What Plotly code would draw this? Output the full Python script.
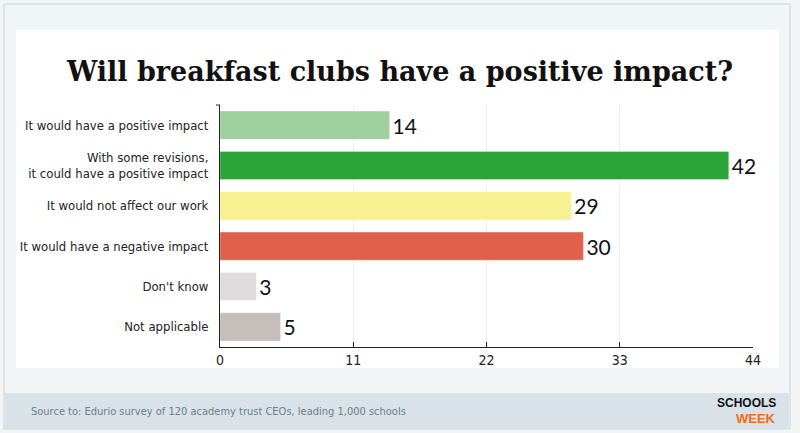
import plotly.graph_objects as go

# survey answers, top to bottom
answers = [
    "It would have a positive impact",
    "With some revisions,<br>it could have a positive impact",
    "It would not affect our work",
    "It would have a negative impact",
    "Don't know",
    "Not applicable",
]
counts = [14, 42, 29, 30, 3, 5]
bar_colors = ["#9fcf9d", "#2ba53a", "#f7f192", "#e0614b", "#e0dbdc", "#c5bebb"]
x_ticks = [0, 11, 22, 33, 44]

title = "Will breakfast clubs have a positive impact?"
source = "Source to: Edurio survey of 120 academy trust CEOs, leading 1,000 schools"

label_font = "DejaVu Sans Condensed, Roboto, sans-serif"

# plot area in pixels (left, top, right, bottom)
L, T, R, B = 220, 105, 753, 347
PW, PH = R - L, B - T


def px(x):
    return (x - L) / PW


def py(y):
    return (B - y) / PH


fig = go.Figure()
fig.add_trace(
    go.Bar(
        x=counts,
        y=answers,
        orientation="h",
        marker=dict(color=bar_colors, line=dict(color="rgba(255,255,255,0.35)", width=1)),
        text=[str(c) for c in counts],
        textposition="outside",
        textfont=dict(family="Lato, Inter, sans-serif", size=21, color="#111111"),
        cliponaxis=False,
        hoverinfo="skip",
    )
)

fig.update_layout(
    width=800,
    height=433,
    margin=dict(l=L, r=800 - R, t=T, b=433 - B, autoexpand=False),
    paper_bgcolor="#f1f5f6",
    plot_bgcolor="#ffffff",
    showlegend=False,
    bargap=0.3,
    title=dict(
        text=f"<b>{title}</b>",
        x=0.5,
        xanchor="center",
        y=1 - 72 / 433,
        yanchor="middle",
        font=dict(family="DejaVu Serif, Liberation Serif, serif", size=27, color="#111111"),
    ),
    shapes=[
        # outer frame
        dict(type="rect", xref="paper", yref="paper", x0=px(4), x1=px(790),
             y0=py(429), y1=py(4),
             line=dict(color="#c9d4db", width=1), fillcolor="rgba(0,0,0,0)", layer="below"),
        # white card
        dict(type="rect", xref="paper", yref="paper", x0=px(16), x1=px(779),
             y0=py(368), y1=py(30),
             line=dict(width=0), fillcolor="#ffffff", layer="below"),
        # footer band
        dict(type="rect", xref="paper", yref="paper", x0=px(5), x1=px(789),
             y0=py(429), y1=py(393),
             line=dict(width=0), fillcolor="#d9e2e8", layer="below"),
        # small cap at the top of the y axis
        dict(type="line", xref="paper", yref="paper", x0=px(216), x1=px(220),
             y0=1, y1=1, line=dict(color="#222222", width=1)),
    ],
    annotations=[
        dict(text=source, xref="paper", yref="paper", x=px(29), y=py(411),
             xanchor="left", yanchor="middle", showarrow=False,
             font=dict(family=label_font, size=11, color="#6f7d87")),
        dict(text="<b>SCHOOLS</b>", xref="paper", yref="paper", x=px(777),
             y=py(403), xanchor="right", yanchor="middle", showarrow=False, borderpad=0,
             font=dict(family="Liberation Sans, Arial, sans-serif", size=12, color="#111111")),
        dict(text="<b>WEEK</b>", xref="paper", yref="paper", x=px(777),
             y=py(418), xanchor="right", yanchor="middle", showarrow=False, borderpad=0,
             font=dict(family="Liberation Sans, Arial, sans-serif", size=13, color="#f26b1d")),
    ],
)

fig.update_xaxes(
    range=[0, 44],
    tickvals=x_ticks,
    ticks="inside",
    ticklen=5,
    tickcolor="#222222",
    showline=True,
    linecolor="#222222",
    linewidth=1,
    showgrid=True,
    gridcolor="#efefef",
    zeroline=False,
    automargin=False,
    tickfont=dict(family=label_font, size=14, color="#222222"),
)
fig.update_yaxes(
    categoryorder="array",
    categoryarray=answers,
    autorange="reversed",
    showline=True,
    linecolor="#222222",
    linewidth=1,
    ticks="",
    ticklabelstandoff=8,
    automargin=False,
    tickfont=dict(family=label_font, size=13, color="#222222"),
)

fig.write_html(
    "out.html",
    config={"displayModeBar": False},
    post_script="document.body.style.margin='0';document.body.style.overflow='hidden';",
)
